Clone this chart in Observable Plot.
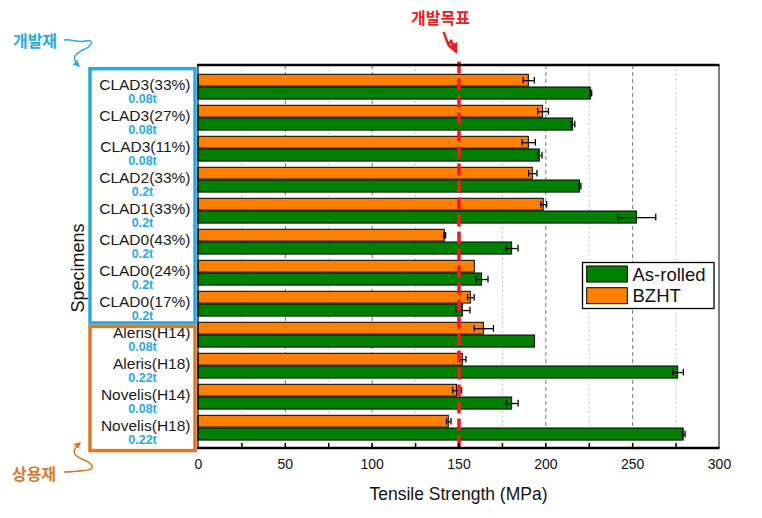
<!DOCTYPE html>
<html><head><meta charset="utf-8">
<script src="https://cdn.jsdelivr.net/npm/d3@7"></script>
<script src="https://cdn.jsdelivr.net/npm/@observablehq/plot@0.6"></script>
<style>
body{margin:0;background:#fff;}
#chart{position:relative;width:762px;height:518px;}
</style>
</head><body><div id="chart"></div>
<script>
// ---- data ----
const specimens = ["CLAD3(33%)","CLAD3(27%)","CLAD3(11%)","CLAD2(33%)","CLAD1(33%)","CLAD0(43%)","CLAD0(24%)","CLAD0(17%)","Aleris(H14)","Aleris(H18)","Novelis(H14)","Novelis(H18)"];
const thickness = ["0.08t","0.08t","0.08t","0.2t","0.2t","0.2t","0.2t","0.2t","0.08t","0.22t","0.08t","0.22t"];
const asRolled    = [225.9, 215.7, 196.5, 219.7, 252.4, 180.6, 163.3, 152.2, 193.8, 276.2, 180.6, 279.4];
const asRolledErr = [0.5, 1.0, 1.3, 0.5, 10.9, 3.4, 3.4, 4.1, 0, 3.0, 3.4, 0.8];
const bzht        = [190.2, 198.4, 190.2, 192.5, 198.8, 141.8, 159.1, 156.8, 164.3, 152.2, 148.9, 144.1];
const bzhtErr     = [3.2, 3.1, 3.8, 2.4, 1.7, 0.5, 0, 1.9, 5.5, 1.8, 2.6, 1.3];
const target = [150];
const majorGrid = [50, 100, 200, 250];
const minorGrid = [25, 75, 125, 175, 225, 275];
const bottomTicks = [25, 50, 75, 100, 125, 150, 175, 200, 225, 250, 275];
const seriesNames = ["As-rolled", "BZHT"];
const groupLabels = ["개발재", "상용재"];
const targetLabel = "개발목표";
const xTitle = "Tensile Strength (MPa)";
const yTitle = "Specimens";

// ---- layout ----
const W = 762, H = 518, mL = 198, mR = 43, mT = 65, mB = 70;
const plotH = H - mT - mB;
const bandH = plotH / specimens.length;
const GREEN = "#008000", ORANGE = "#ff8000", BLUE = "#29abe2", BOXORANGE = "#d97a2b", RED = "#ee1c25";
const oTop = 3.3, oBot = 16, gTop = 16, gBot = 29;

const data = specimens.map((s, i) => ({spec: s, thick: thickness[i], rolled: asRolled[i], rolledErr: asRolledErr[i], bzht: bzht[i], bzhtErr: bzhtErr[i]}));
const errB = data.filter(d => d.bzhtErr > 0);
const errR = data.filter(d => d.rolledErr > 0);
const capsB = errB.flatMap(d => [{spec: d.spec, x: d.bzht - d.bzhtErr}, {spec: d.spec, x: d.bzht + d.bzhtErr}]);
const capsR = errR.flatMap(d => [{spec: d.spec, x: d.rolled - d.rolledErr}, {spec: d.spec, x: d.rolled + d.rolledErr}]);

const plot = Plot.plot({
  width: W, height: H, marginLeft: mL, marginRight: mR, marginTop: mT, marginBottom: mB,
  style: {fontFamily: "'Liberation Sans', Arial, sans-serif", fontSize: "14px", color: "#111", background: "#fff", overflow: "visible"},
  x: {domain: [0, 300], ticks: 6, tickSize: 0, tickPadding: 11, label: null},
  y: {domain: specimens, padding: 0, axis: null},
  marks: [
    Plot.ruleX(minorGrid, {stroke: "#b0b0b0", strokeDasharray: "1.5,3"}),
    Plot.ruleX(majorGrid, {stroke: "#777", strokeDasharray: "4,3"}),
    Plot.barX(data, {x: "bzht", y: "spec", fill: ORANGE, stroke: "#000", strokeWidth: 1, insetTop: oTop, insetBottom: bandH - oBot}),
    Plot.barX(data, {x: "rolled", y: "spec", fill: GREEN, stroke: "#000", strokeWidth: 1, insetTop: gTop, insetBottom: bandH - gBot}),
    Plot.ruleY(errB, {y: "spec", x1: d => d.bzht - d.bzhtErr, x2: d => d.bzht + d.bzhtErr, stroke: "#000", strokeWidth: 1.3, dy: (oTop + oBot) / 2 - bandH / 2}),
    Plot.tickX(capsB, {x: "x", y: "spec", stroke: "#000", strokeWidth: 1.3, insetTop: 6, insetBottom: bandH - 13.5}),
    Plot.ruleY(errR, {y: "spec", x1: d => d.rolled - d.rolledErr, x2: d => d.rolled + d.rolledErr, stroke: "#000", strokeWidth: 1.3, dy: (gTop + gBot) / 2 - bandH / 2}),
    Plot.tickX(capsR, {x: "x", y: "spec", stroke: "#000", strokeWidth: 1.3, insetTop: 18.8, insetBottom: bandH - 26.3}),
    Plot.ruleX(target, {stroke: RED, strokeWidth: 3.6, strokeDasharray: "12,5", insetTop: -3.5}),
    Plot.ruleX(bottomTicks, {stroke: "#000", strokeWidth: 1.5, insetTop: plotH - 5}),
    Plot.text(data, {y: "spec", text: "spec", frameAnchor: "left", dx: -8, dy: -1.5, textAnchor: "end", fontSize: 15.5, fill: "#1a1a1a"}),
    Plot.text(data, {y: "spec", text: "thick", frameAnchor: "left", dx: -56, dy: 12, textAnchor: "middle", fontSize: 12.5, fontWeight: "bold", fill: BLUE})
  ]
});
document.getElementById("chart").appendChild(plot);

// ---- decorations using the plot's scales ----
const svg = d3.select(plot);
const xs = plot.scale("x"), ys = plot.scale("y");
const X0 = xs.apply(0), X1 = xs.apply(300);
const Y0 = mT, Y1 = H - mB;
const g = svg.append("g").attr("text-anchor", "start");

// frame
g.append("line").attr("x1", X0).attr("x2", X0).attr("y1", Y0).attr("y2", Y1).attr("stroke", "#000").attr("stroke-width", 1.2);
g.append("line").attr("x1", X1).attr("x2", X1).attr("y1", Y0).attr("y2", Y1).attr("stroke", "#000").attr("stroke-width", 1);
g.append("line").attr("x1", X0 - 1).attr("x2", X1 + 0.5).attr("y1", Y0).attr("y2", Y0).attr("stroke", "#000").attr("stroke-width", 2.6);
g.append("line").attr("x1", X0 - 1).attr("x2", X1 + 0.5).attr("y1", Y1).attr("y2", Y1).attr("stroke", "#000").attr("stroke-width", 2.6);

// group boxes
const boxL = X0 - 108, boxR = X0 - 3;
const bTop = ys.apply(specimens[0]) - 2.3, bBot = ys.apply(specimens[7]) + bandH + 3;
g.append("rect").attr("x", boxL).attr("y", bTop).attr("width", boxR - boxL).attr("height", bBot - bTop)
  .attr("fill", "none").attr("stroke", BLUE).attr("stroke-width", 3.5);
const oT = ys.apply(specimens[8]) + 7.4, oB = ys.apply(specimens[11]) + bandH + 6.7;
g.append("rect").attr("x", boxL).attr("y", oT).attr("width", boxR - boxL).attr("height", oB - oT)
  .attr("fill", "none").attr("stroke", BOXORANGE).attr("stroke-width", 3.5);

// markers
const defs = svg.append("defs");
function marker(id, color) {
  defs.append("marker").attr("id", id).attr("viewBox", "0 0 10 10").attr("refX", 8).attr("refY", 5)
    .attr("markerWidth", 4.5).attr("markerHeight", 4.5).attr("orient", "auto")
    .append("path").attr("d", "M0,0 L10,5 L0,10 z").attr("fill", color);
}
marker("ah-blue", BLUE); marker("ah-orange", BOXORANGE); marker("ah-red", RED);

// group labels + arrows
g.append("text").attr("x", 35).attr("y", 40).attr("text-anchor", "middle").attr("dominant-baseline", "central")
  .attr("font-family", "'Noto Sans CJK KR', sans-serif").attr("font-size", 16).attr("font-weight", "bold").attr("fill", BLUE).text(groupLabels[0]);
g.append("path").attr("d", "M64,40 C72,39 78,43 86,41 C94,39 93,45 85,49 C74,54 71,58 79,66")
  .attr("fill", "none").attr("stroke", BLUE).attr("stroke-width", 1.5).attr("marker-end", "url(#ah-blue)");
g.append("text").attr("x", 34).attr("y", 472.5).attr("text-anchor", "middle").attr("dominant-baseline", "central")
  .attr("font-family", "'Noto Sans CJK KR', sans-serif").attr("font-size", 16).attr("font-weight", "bold").attr("fill", BOXORANGE).text(groupLabels[1]);
g.append("path").attr("d", "M64,472 C72,472 80,471 88,470 C96,468 92,463 82,459 C72,455 72,450 80,443")
  .attr("fill", "none").attr("stroke", BOXORANGE).attr("stroke-width", 1.5).attr("marker-end", "url(#ah-orange)");

// target annotation
const XT = xs.apply(target[0]);
g.append("text").attr("x", XT - 18).attr("y", 16.5).attr("text-anchor", "middle").attr("dominant-baseline", "central")
  .attr("font-family", "'Noto Sans CJK KR', sans-serif").attr("font-size", 16).attr("font-weight", "bold").attr("fill", RED).text(targetLabel);
g.append("path").attr("d", `M${XT - 15},32 L${XT - 10},45 L${XT - 7.5},40.5 L${XT - 2.5},52`)
  .attr("fill", "none").attr("stroke", RED).attr("stroke-width", 2.4).attr("stroke-linejoin", "round").attr("marker-end", "url(#ah-red)");

// axis titles
g.append("text").attr("x", (X0 + X1) / 2).attr("y", 494).attr("text-anchor", "middle").attr("dominant-baseline", "central")
  .attr("font-family", "'Liberation Sans', Arial, sans-serif").attr("font-size", 17.5).attr("fill", "#111").text(xTitle);
g.append("text").attr("transform", "translate(78,268) rotate(-90)").attr("text-anchor", "middle").attr("dominant-baseline", "central")
  .attr("font-family", "'Liberation Sans', Arial, sans-serif").attr("font-size", 18).attr("fill", "#111").text(yTitle);

// legend
const lg = g.append("g");
lg.append("rect").attr("x", 582.5).attr("y", 262.5).attr("width", 131.5).attr("height", 46).attr("fill", "#fff").attr("stroke", "#000").attr("stroke-width", 1.3);
[[GREEN, 266, seriesNames[0]], [ORANGE, 287.7, seriesNames[1]]].forEach(([c, y, t]) => {
  lg.append("rect").attr("x", 586.7).attr("y", y).attr("width", 40.6).attr("height", 16).attr("fill", c).attr("stroke", "#000").attr("stroke-width", 1);
  lg.append("text").attr("x", 632.5).attr("y", y + 8).attr("text-anchor", "start").attr("dominant-baseline", "central")
    .attr("font-family", "'Liberation Sans', Arial, sans-serif").attr("font-size", 18.5).attr("fill", "#111").text(t);
});
</script>
</body></html>
